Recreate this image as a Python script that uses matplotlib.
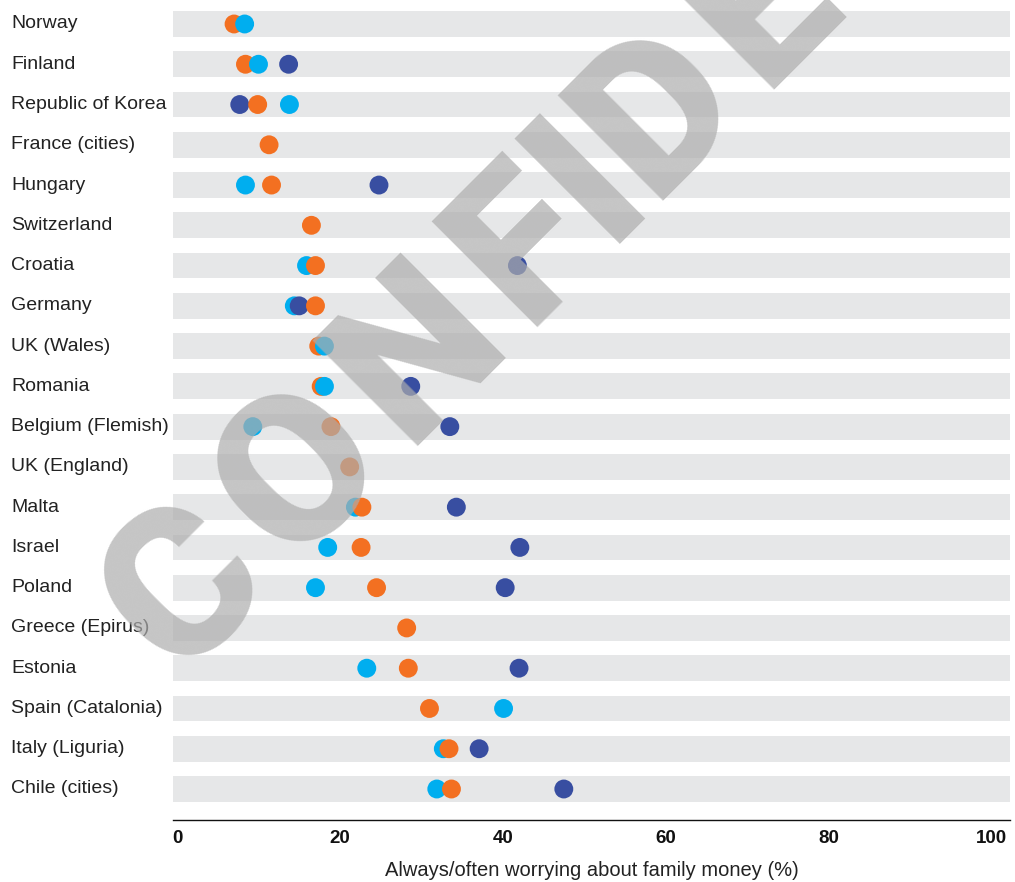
"""Dot chart: always/often worrying about family money, by country."""

import matplotlib.pyplot as plt
import matplotlib.transforms as mtransforms
import numpy as np

NAN = np.nan

countries = [
    "Norway", "Finland", "Republic of Korea", "France (cities)", "Hungary",
    "Switzerland", "Croatia", "Germany", "UK (Wales)", "Romania",
    "Belgium (Flemish)", "UK (England)", "Malta", "Israel", "Poland",
    "Greece (Epirus)", "Estonia", "Spain (Catalonia)", "Italy (Liguria)", "Chile (cities)",
]
# three groups per country (orange, light blue, dark blue); NaN = not shown
orange_vals = [7.0, 8.4, 9.9, 11.3, 11.6, 16.5, 17.0, 17.0, 17.4, 17.7,
               18.9, 21.2, 22.7, 22.6, 24.5, 28.2, 28.4, 31.0, 33.4, 33.7]
light_vals = [8.3, 10.0, 13.8, NAN, 8.4, NAN, 15.9, 14.4, 18.1, 18.1,
              9.3, NAN, 21.9, 18.5, 17.0, NAN, 23.3, 40.1, 32.7, 31.9]
dark_vals = [NAN, 13.7, 7.7, NAN, 24.8, NAN, 41.8, 15.0, NAN, 28.7,
             33.5, NAN, 34.3, 42.1, 40.3, NAN, 42.0, NAN, 37.1, 47.5]
xticks = [0, 20, 40, 60, 80, 100]
xlabel = "Always/often worrying about family money (%)"
# hair spaces open up the letter spacing a little (none around the narrow I)
watermark = "C\u200aO\u200aN\u200aFID\u200aE\u200aN\u200aT\u200aI\u200aA\u200aL"

ORANGE = "#f37021"
LIGHT = "#00aeef"
DARK = "#384ea1"
BAND = "#e6e7e8"

W, H = 1015, 882
fig = plt.figure(figsize=(W / 100, H / 100), dpi=100)
ax = fig.add_axes([173 / W, 1 - 820 / H, (1010 - 173) / W, 820 / H])

xmin, xmax = -0.5, 102.3
rows = np.arange(len(countries))
ax.set_xlim(xmin, xmax)
ax.set_ylim(19.77, -0.596)

ax.barh(rows, width=xmax - xmin, left=xmin, height=0.64, color=BAND, zorder=1)

# all dots in one scatter, sorted by value so the right-most dot sits on top
xs, ys, cs = [], [], []
for vals, col in ((orange_vals, ORANGE), (light_vals, LIGHT), (dark_vals, DARK)):
    for r, v in zip(rows, vals):
        if not np.isnan(v):
            xs.append(v)
            ys.append(r)
            cs.append(col)
order = np.argsort(xs, kind="stable")
ax.scatter(np.array(xs)[order], np.array(ys)[order], c=np.array(cs)[order],
           s=185, linewidths=0, zorder=3)

# country labels, left-aligned at the figure edge
trans = mtransforms.blended_transform_factory(fig.transFigure, ax.transData)
for r, name in zip(rows, countries):
    ax.text(11 / W, r, name, transform=trans, ha="left", va="center",
            fontsize=14, family="Liberation Sans", color="#222222")

ax.set_yticks([])
ax.set_xticks(xticks)
ax.set_xticklabels([str(t) for t in xticks], fontsize=13.5, fontweight="bold",
                   family="Liberation Sans", color="#111111")
ax.tick_params(axis="x", length=0, pad=7)
for side in ("top", "right", "left"):
    ax.spines[side].set_visible(False)
ax.spines["bottom"].set_color("#111111")
ax.spines["bottom"].set_linewidth(1.0)
ax.set_xlabel(xlabel, fontsize=14.5, family="Liberation Sans", color="#222222", labelpad=10)

# watermark over the plot
fig.text(181 / W, 1 - 684 / H, watermark, rotation=45, rotation_mode="anchor",
         ha="left", va="baseline", fontsize=151, fontweight=900,
         family=["Roboto", "DejaVu Sans"], color="#adadad", alpha=0.7, zorder=10)

fig.savefig("out.png", dpi=100)
plt.close(fig)
